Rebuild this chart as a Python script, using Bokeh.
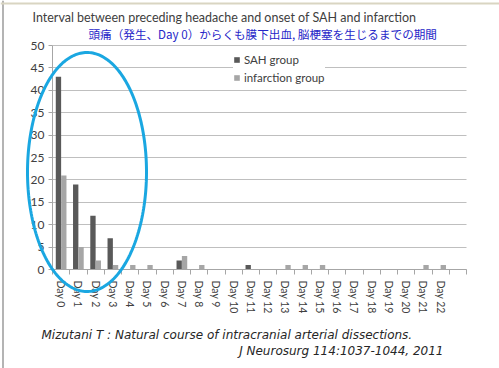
import numpy as np
from bokeh.plotting import figure
from bokeh.models import (ColumnDataSource, FixedTicker, Label, Legend, LegendItem,
                          PolyAnnotation, Range1d, Span)
from bokeh.transform import dodge
from bokeh.embed import file_html
from bokeh.resources import INLINE

# ---- data ----
days = [f"Day {i}" for i in range(23)]
day_index = list(range(23))
sah = [43, 19, 12, 7, 0, 0, 0, 2, 0, 0, 0, 1, 0, 0, 0, 0, 0, 0, 0, 0, 0, 0, 0]
infarction = [21, 5, 2, 1, 1, 1, 0, 3, 1, 0, 0, 0, 0, 1, 1, 1, 0, 0, 0, 0, 0, 1, 1]
y_ticks = list(range(0, 51, 5))
series_names = ["SAH group", "infarction group"]

title_text = "Interval between preceding headache and onset of SAH and infarction"
subtitle_text = "頭痛（発生、Day 0）からくも膜下出血, 脳梗塞を生じるまでの期間"
cite1 = "Mizutani T : Natural course of intracranial arterial dissections."
cite2 = "J Neurosurg 114:1037-1044, 2011"

# ---- layout (pixels) ----
W, H = 499, 368
FL, FR, FT, FB = 52, 466, 45, 269      # plotting area of the chart
N_SLOTS = 24
Y_MAX = 50


def px_x(px):
    return -0.5 + (px - FL) * N_SLOTS / (FR - FL)


def px_y(py):
    return (FB - py) * Y_MAX / (FB - FT)


src = ColumnDataSource(dict(x=day_index, sah=sah, inf=infarction))

p = figure(width=W, height=H, output_backend="svg", toolbar_location=None,
           x_range=Range1d(px_x(0), px_x(W)), y_range=Range1d(px_y(H), px_y(0)),
           min_border=0)
p.outline_line_color = None
p.background_fill_color = "white"
p.border_fill_color = "white"

r1 = p.vbar(x=dodge("x", -0.155, range=p.x_range), top="sah", width=0.31,
            source=src, fill_color="#595959", line_color=None)
r2 = p.vbar(x=dodge("x", 0.155, range=p.x_range), top="inf", width=0.31,
            source=src, fill_color="#A6A6A6", line_color=None)

# x axis
xa = p.xaxis[0]
xa.fixed_location = 0
xa.bounds = (-0.5, N_SLOTS - 0.5)
xa.ticker = FixedTicker(ticks=day_index, minor_ticks=[i - 0.5 for i in range(N_SLOTS + 1)])
xa.major_label_overrides = {i: d for i, d in zip(day_index, days)}
xa.major_label_orientation = "vertical"
xa.major_tick_out = 0
xa.major_tick_in = 0
xa.minor_tick_out = 5
xa.minor_tick_in = 0
xa.minor_tick_line_color = "#A6A6A6"
xa.axis_line_color = "#A6A6A6"
xa.major_label_text_font = "Lato"
xa.major_label_text_font_size = "10.5px"
xa.major_label_text_color = "#404040"
xa.major_label_standoff = 6
p.xgrid.visible = False

# y axis
ya = p.yaxis[0]
ya.fixed_location = -0.5
ya.bounds = (0, Y_MAX)
ya.ticker = FixedTicker(ticks=y_ticks)
ya.minor_tick_line_color = None
ya.major_tick_out = 4
ya.major_tick_in = 0
ya.major_tick_line_color = "#A6A6A6"
ya.axis_line_color = "#A6A6A6"
ya.major_label_text_font = "Lato"
ya.major_label_text_font_size = "12px"
ya.major_label_text_color = "#404040"
ya.major_label_standoff = 4
p.ygrid.grid_line_color = "#BFBFBF"
p.ygrid.grid_line_width = 1
p.ygrid.bounds = (0, Y_MAX)
p.ygrid.cross_bounds = (-0.5, N_SLOTS - 0.5)

legend = Legend(items=[LegendItem(label=series_names[0], renderers=[r1]),
                       LegendItem(label=series_names[1], renderers=[r2])],
                location=(233, H - 84), glyph_width=7, glyph_height=7, label_standoff=4,
                spacing=4, padding=3, label_height=14, margin=0,
                label_text_font="Lato", label_text_font_size="11.5px",
                label_text_color="#404040", border_line_color=None,
                background_fill_color="white", background_fill_alpha=1)
p.add_layout(legend, "center")

# slide frame
p.add_layout(Span(location=px_x(2.5), dimension="height", line_color="#B4B4B4", line_width=2))
p.add_layout(Span(location=px_y(3), dimension="width", line_color="#D9D5C2", line_width=2))

# ellipse highlight
theta = np.linspace(0, 2 * np.pi, 240)
ecx, ecy, erx, ery = px_x(86.5), px_y(171.5), 59.5 * N_SLOTS / (FR - FL), 119.5 * Y_MAX / (FB - FT)
ell = PolyAnnotation(xs=list(ecx + erx * np.cos(theta)), ys=list(ecy + ery * np.sin(theta)),
                     xs_units="data", ys_units="data",
                     line_color="#1AA7E1", line_alpha=1, line_width=3, fill_alpha=0)
p.add_layout(ell)

p.add_layout(Label(x=px_x(32), y=px_y(16.5), text=title_text,
                   text_font="Lato", text_font_size="12.5px", text_color="#404040",
                   text_baseline="middle"))
p.add_layout(Label(x=px_x(88), y=px_y(33), text=subtitle_text,
                   text_font="Noto Sans CJK JP", text_font_size="11.6px",
                   text_color="#2626C8", text_baseline="middle"))
p.add_layout(Label(x=px_x(41), y=px_y(334), text=cite1,
                   text_font="DejaVu Sans", text_font_style="italic",
                   text_font_size="12px", text_color="#262626", text_baseline="middle"))
p.add_layout(Label(x=px_x(443), y=px_y(350), text=cite2,
                   text_font="DejaVu Sans", text_font_style="italic",
                   text_font_size="12px", text_color="#262626", text_baseline="middle",
                   text_align="right"))

open("out.html", "w").write(file_html(p, INLINE))
